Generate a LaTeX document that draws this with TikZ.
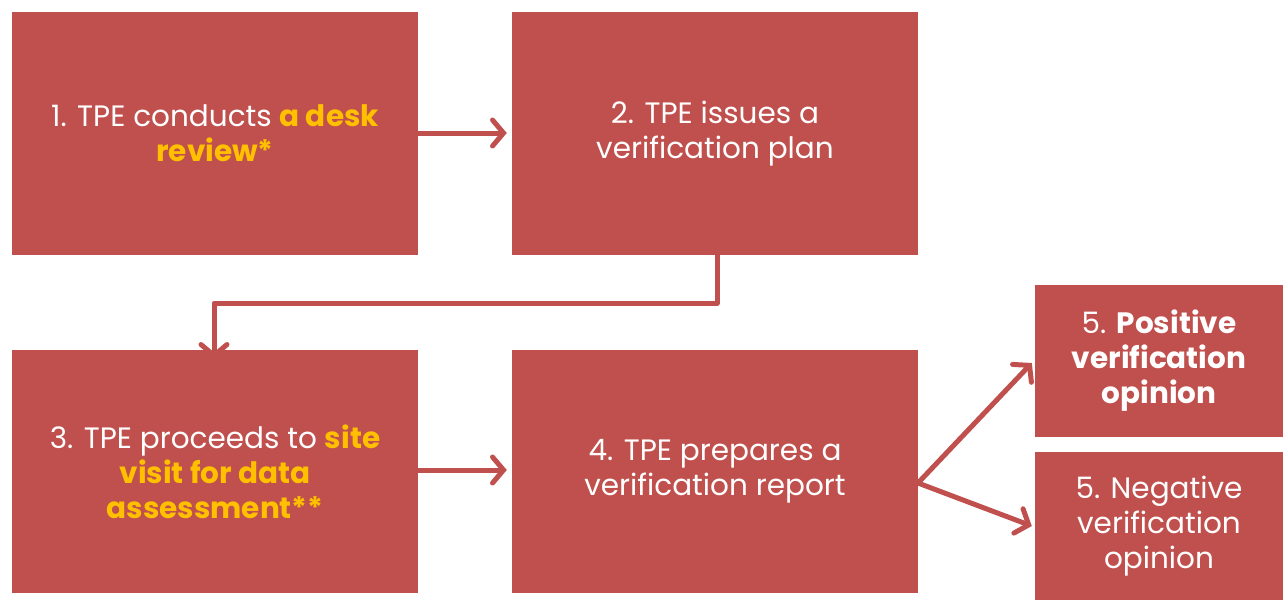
\documentclass[tikz,border=0pt]{standalone}
\usepackage{fontspec}
\setmainfont{Poppins}
\usetikzlibrary{arrows.meta}
\definecolor{boxred}{HTML}{C0504D}
\definecolor{gold}{HTML}{FFC000}
\tikzset{
  stepbox/.style={fill=boxred, draw=none, text=white, align=center, inner sep=0pt, font=\fontsize{29.5}{35}\selectfont},
  conn/.style={draw=boxred, line width=5pt, line cap=round, line join=round, -{Straight Barb[length=11pt,width=26pt,line cap=round]}},
}
\newcommand{\hl}[1]{\textcolor{gold}{\bfseries #1}}
\begin{document}
\begin{tikzpicture}[x=1pt,y=-1pt]
\useasboundingbox (0,0) rectangle (1283,600);
\node[stepbox, minimum width=406pt, minimum height=243pt] (b1) at (215,133.5) {1. TPE conducts \hl{a desk}\\\hl{review*}};
\node[stepbox, minimum width=406pt, minimum height=243pt] (b2) at (715,133.5) {2. TPE issues a\\verification plan};
\node[stepbox, minimum width=406pt, minimum height=243pt] (b3) at (215,471.5) {3. TPE proceeds to \hl{site}\\\hl{visit for data}\\\hl{assessment**}};
\node[stepbox, minimum width=406pt, minimum height=243pt] (b4) at (715,471.5) {4. TPE prepares a\\verification report};
\node[stepbox, minimum width=248pt, minimum height=152pt] (b5) at (1159,361) {5. \textbf{Positive}\\\textbf{verification}\\\textbf{opinion}};
\node[stepbox, minimum width=248pt, minimum height=148pt] (b6) at (1159,526) {5. Negative\\verification\\opinion};
\coordinate (bend1) at (717,303);
\coordinate (bend2) at (214,303);
\coordinate (fork) at (918,483);
\draw[conn] (b1.east |- 0,133) -- ([xshift=-5pt]b2.west |- 0,133);
\draw[conn] (b2.south -| bend1) -- (bend1) -- (bend2) -- ([yshift=-9pt]b3.north -| bend2);
\draw[conn] (b3.east |- 0,470) -- ([xshift=-5pt]b4.west |- 0,470);
\draw[conn] (fork) -- ([xshift=-3pt]b5.west |- 0,363);
\draw[conn] (fork) -- ([xshift=-3pt]b6.west |- 0,526);
\end{tikzpicture}
\end{document}
